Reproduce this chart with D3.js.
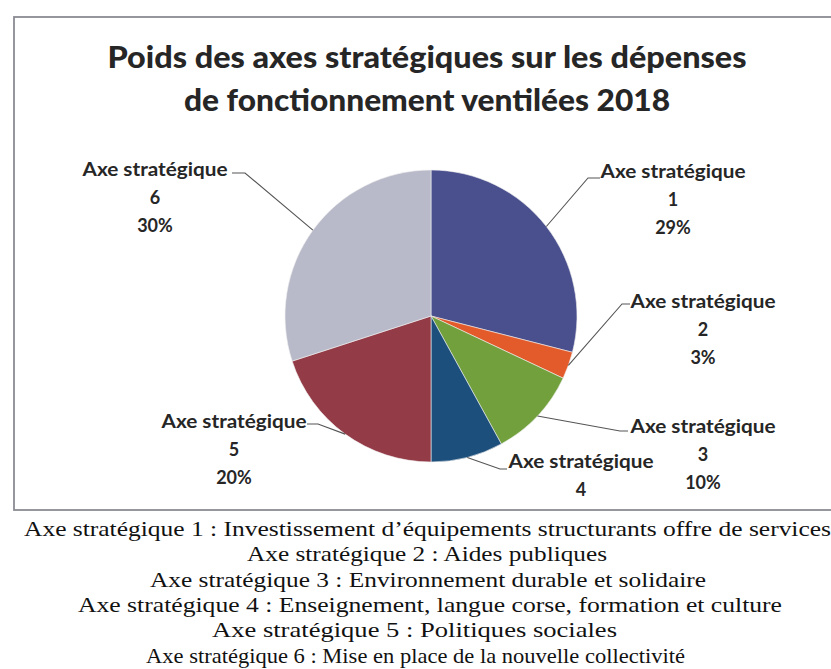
<!DOCTYPE html>
<html>
<head>
<meta charset="utf-8">
<script src="https://cdn.jsdelivr.net/npm/d3@7"></script>
<style>
  body { margin: 0; background: #fff; }
  svg { display: block; }
</style>
</head>
<body>
<div id="chart"></div>
<script>
// data
var axeNames = ["Axe stratégique", "Axe stratégique", "Axe stratégique", "Axe stratégique", "Axe stratégique", "Axe stratégique"];
var axeNums = ["1", "2", "3", "4", "5", "6"];
var values = [29, 3, 10, 8, 20, 30];
var colors = ["#4a508e", "#e35b2a", "#71a03c", "#1c4f7b", "#933b46", "#b9bac9"];
var titleLines = ["Poids des axes stratégiques  sur les dépenses", "de fonctionnement ventilées 2018"];
var footLines = [
    "Axe stratégique 1 : Investissement d’équipements structurants offre de services",
    "Axe stratégique 2 : Aides publiques",
    "Axe stratégique 3 : Environnement durable et solidaire",
    "Axe stratégique 4 : Enseignement, langue corse, formation et culture",
    "Axe stratégique 5 : Politiques sociales",
    "Axe stratégique 6 : Mise en place de la nouvelle collectivité"
];

var width = 831, height = 669;
var cx = 431, cy = 316, r = 146;
var boxBottom = 509;

// label layout: centre x, first line y, elbow and end of the leader line
var labelPos = [
    {x: 673, y: 172, ex: 588, ey: 178, tx: 600},
    {x: 703, y: 302, ex: 622, ey: 304, tx: 630},
    {x: 703, y: 427, ex: 620, ey: 431, tx: 628},
    {x: 581, y: 462, ex: 500, ey: 469, tx: 507},
    {x: 234, y: 422, ex: 318, ey: 424, tx: 307},
    {x: 155, y: 170, ex: 245, ey: 173, tx: 232}
];
// footer text widths
var footPos = [{x0: 24, x1: 831}, {x0: 247, x1: 607}, {x0: 150, x1: 706}, {x0: 78, x1: 782}, {x0: 212, x1: 617}, {x0: 146, x1: 685}];

var svg = d3.select("#chart").append("svg")
    .attr("width", width)
    .attr("height", height);

// the scan cuts the chart at the bottom of its frame
svg.append("defs").append("clipPath").attr("id", "box")
    .append("rect").attr("x", 14).attr("y", 17).attr("width", 830).attr("height", boxBottom - 17);

// frame
svg.append("rect")
    .attr("x", 14).attr("y", 17)
    .attr("width", 830).attr("height", boxBottom - 16)
    .attr("fill", "#fff")
    .attr("stroke", "#8a8c93")
    .attr("stroke-width", 1.8);

var g = svg.append("g").attr("clip-path", "url(#box)");

// title
g.selectAll(".title")
    .data(titleLines)
    .enter().append("text")
    .attr("class", "title")
    .attr("x", 427)
    .attr("y", function(d, i) { return 68 + i * 43; })
    .attr("text-anchor", "middle")
    .attr("textLength", function(d, i) { return i == 0 ? 639 : 486; })
    .attr("lengthAdjust", "spacingAndGlyphs")
    .attr("font-family", "Lato, 'Open Sans', sans-serif")
    .attr("font-weight", "900")
    .attr("font-size", 31)
    .attr("fill", "#262626")
    .text(function(d) { return d; });

var pie = d3.pie().sort(null).value(function(d) { return d; });
var arc = d3.arc().innerRadius(0).outerRadius(r);
var arcs = pie(values);

var pieG = g.append("g").attr("transform", "translate(" + cx + "," + cy + ")");

pieG.selectAll("path")
    .data(arcs)
    .enter().append("path")
    .attr("d", arc)
    .attr("fill", function(d, i) { return colors[i]; })
    .attr("stroke", "#f0f0f0")
    .attr("stroke-width", 0.6);

// leader lines
g.selectAll(".leader")
    .data(arcs)
    .enter().append("polyline")
    .attr("class", "leader")
    .attr("fill", "none")
    .attr("stroke", "#555")
    .attr("stroke-width", 1.1)
    .attr("points", function(d, i) {
        var a = (d.startAngle + d.endAngle) / 2;
        var sx = cx + Math.sin(a) * r, sy = cy - Math.cos(a) * r;
        var p = labelPos[i];
        return [[sx, sy], [p.ex, p.ey], [p.tx, p.ey]].join(" ");
    });

// data labels
var lab = g.selectAll(".lab")
    .data(arcs)
    .enter().append("text")
    .attr("class", "lab")
    .attr("text-anchor", "middle")
    .attr("font-family", "Lato, 'Open Sans', sans-serif")
    .attr("font-weight", "bold")
    .attr("font-size", 18)
    .attr("fill", "#262626");

lab.each(function(d, i) {
    var t = d3.select(this), p = labelPos[i];
    var lines = [axeNames[i], axeNums[i], values[i] + "%"];
    lines.forEach(function(s, k) {
        var y = p.y + k * 28;
        // lines that fall under the frame are cut off in the scan
        if (y + 6 > boxBottom) return;
        var ts = t.append("tspan")
            .attr("x", p.x)
            .attr("y", y)
            .attr("dy", "0.35em")
            .text(s);
        if (k == 0) ts.attr("textLength", 145).attr("lengthAdjust", "spacingAndGlyphs");
    });
});

// footer
svg.selectAll(".foot")
    .data(footLines)
    .enter().append("text")
    .attr("class", "foot")
    .attr("x", function(d, i) { return footPos[i].x0; })
    .attr("y", function(d, i) { return 528 + i * 25.4; })
    .attr("dy", "0.35em")
    .attr("textLength", function(d, i) { return footPos[i].x1 - footPos[i].x0; })
    .attr("lengthAdjust", "spacingAndGlyphs")
    .attr("font-family", "'Liberation Serif', 'DejaVu Serif', serif")
    .attr("font-size", 22)
    .attr("fill", "#111")
    .text(function(d) { return d; });
</script>
</body>
</html>
